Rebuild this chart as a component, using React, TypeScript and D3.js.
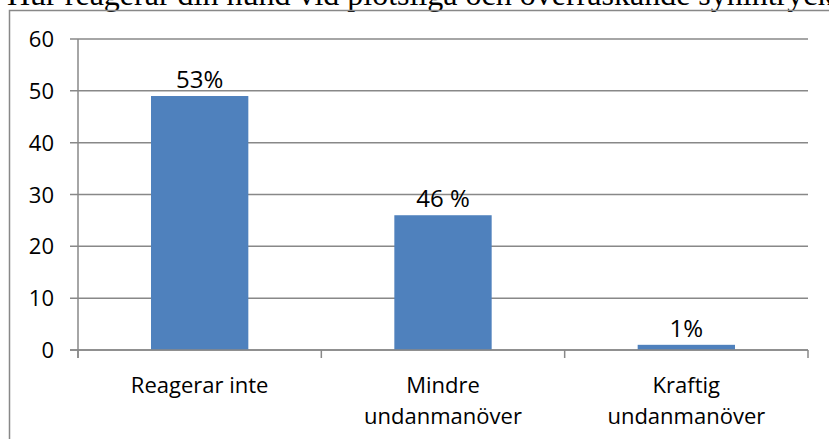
import React from 'react';
import * as d3 from 'd3';

// kategorier, värden och etiketter
const categories = ['Reagerar inte', 'Mindre undanmanöver', 'Kraftig undanmanöver'];
const categoryLines = [['Reagerar inte'], ['Mindre', 'undanmanöver'], ['Kraftig', 'undanmanöver']];
const values = [49, 26, 1];
const valueLabels = ['53%', '46 %', '1%'];
const yTicks = [0, 10, 20, 30, 40, 50, 60];
const title = 'Hur reagerar din hund vid plötsliga och överraskande synintryck';

const W = 829;
const H = 439;
const plot = { left: 78, right: 808, top: 39, bottom: 350 };
const gridColor = '#888888';
const barColor = '#4F81BD';
const font = '"Open Sans", sans-serif';

export default function App() {
  const x = d3.scaleBand<string>()
    .domain(categories)
    .range([plot.left, plot.right])
    .paddingInner(0.6)
    .paddingOuter(0.3);

  const y = d3.scaleLinear().domain([0, 60]).range([plot.bottom, plot.top]);
  const step = x.step();

  return (
    <svg width={W} height={H} style={{ position: 'absolute', left: 0, top: 0, background: '#fff' }}>
      {/* titel, avskuren upptill */}
      <text x={7} y={5} fontFamily='"Liberation Serif", "Times New Roman", serif' fontSize={32} fill="#000">
        {title}
      </text>

      {/* diagramram */}
      <rect x={9.5} y={10.5} width={1000} height={600} fill="none" stroke={gridColor} strokeWidth={1.5} />

      {/* stödlinjer och y-etiketter */}
      {yTicks.map(t => (
        <g key={t}>
          <line x1={plot.left - 8} x2={plot.right} y1={y(t)} y2={y(t)} stroke={gridColor} strokeWidth={1.5} />
          <text x={54} y={y(t) + 8} textAnchor="end" fontFamily={font} fontSize={22} fill="#000">
            {t}
          </text>
        </g>
      ))}

      {/* y-axel */}
      <line x1={plot.left} x2={plot.left} y1={plot.top} y2={plot.bottom + 8} stroke={gridColor} strokeWidth={1.5} />

      {/* x-axelns kategorimarkeringar */}
      {d3.range(categories.length + 1).map(i => {
        const xx = plot.left + i * step;
        return <line key={i} x1={xx} x2={xx} y1={plot.bottom} y2={plot.bottom + 8} stroke={gridColor} strokeWidth={1.5} />;
      })}

      {/* staplar */}
      {categories.map((c, i) => (
        <rect key={c} x={x(c)} y={y(values[i])} width={x.bandwidth()} height={y(0) - y(values[i])} fill={barColor} />
      ))}

      {/* x-axel */}
      <line x1={plot.left - 8} x2={plot.right} y1={plot.bottom} y2={plot.bottom} stroke={gridColor} strokeWidth={1.5} />

      {/* dataetiketter */}
      {categories.map((c, i) => (
        <text key={c} x={(x(c) ?? 0) + x.bandwidth() / 2} y={y(values[i]) - 8} textAnchor="middle" fontFamily={font} fontSize={24} fill="#000">
          {valueLabels[i]}
        </text>
      ))}

      {/* kategorietiketter */}
      {categories.map((c, i) => (
        <text key={c} textAnchor="middle" fontFamily={font} fontSize={22} fill="#000">
          {categoryLines[i].map((l, j) => (
            <tspan key={j} x={(x(c) ?? 0) + x.bandwidth() / 2} y={393 + j * 31}>{l}</tspan>
          ))}
        </text>
      ))}
    </svg>
  );
}
